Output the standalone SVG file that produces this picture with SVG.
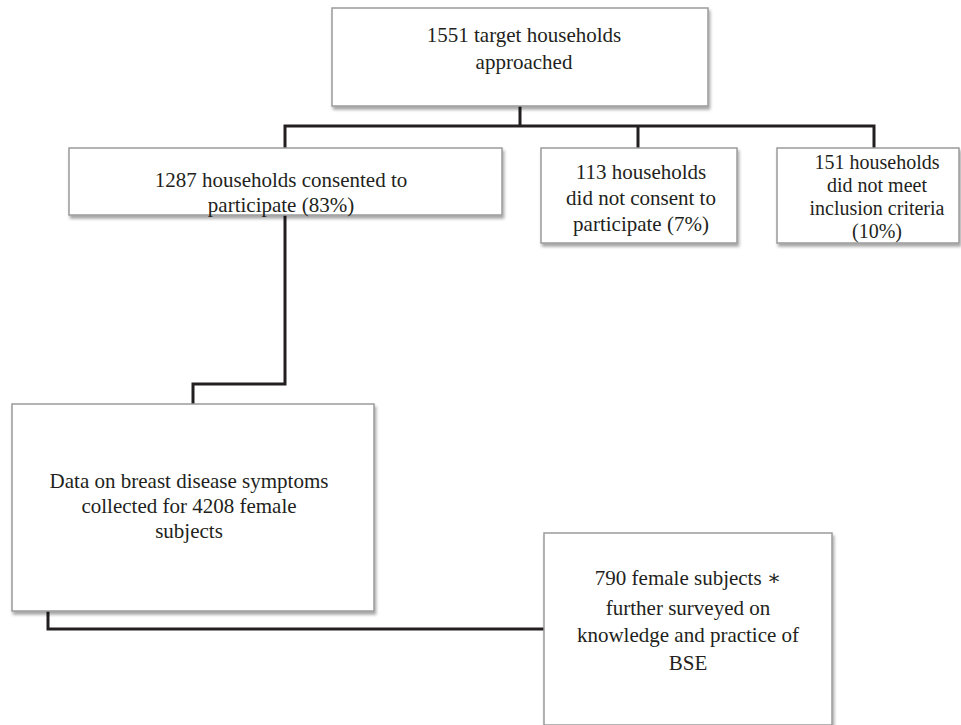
<svg xmlns="http://www.w3.org/2000/svg" width="961" height="725" viewBox="0 0 961 725">
<defs>
<filter id="sh" x="-5%" y="-5%" width="115%" height="120%">
<feDropShadow dx="1.5" dy="3" stdDeviation="1.8" flood-color="#000" flood-opacity="0.35"/>
</filter>
</defs>
<style>
.box{fill:#fff;stroke:#9a9a9a;stroke-width:1.5;filter:url(#sh)}
.t{font-family:'Liberation Serif','Times New Roman','DejaVu Serif',serif;font-size:21px;fill:#231f20;text-anchor:middle}
.s{font-size:20px}
.c{fill:none;stroke:#231f20;stroke-width:3;stroke-linejoin:miter}
</style>
<rect width="961" height="725" fill="#fff"/>
<g id="connectors">
<path class="c" d="M520,106 V126 M285,148 V126 H874 V148 M638,126 V148"/>
<path class="c" d="M285,215 V384 H193 V404"/>
<path class="c" d="M48,611 V629 H544"/>
</g>
<g id="n1">
<rect class="box" x="332" y="8" width="376" height="98"/>
<text class="t" x="524" y="42">1551 target households</text>
<text class="t" x="524" y="69">approached</text>
</g>
<g id="n2">
<rect class="box" x="69" y="148" width="433" height="67"/>
<text class="t" x="281" y="187">1287 households consented to</text>
<text class="t" x="281" y="212">participate (83%)</text>
</g>
<g id="n3">
<rect class="box" x="541" y="148" width="196" height="95"/>
<text class="t" x="641" y="179">113 households</text>
<text class="t" x="641" y="205">did not consent to</text>
<text class="t" x="641" y="231">participate (7%)</text>
</g>
<g id="n4">
<rect class="box" x="777" y="148" width="182" height="95"/>
<text class="t s" x="877" y="169">151 households</text>
<text class="t s" x="877" y="192">did not meet</text>
<text class="t s" x="877" y="215">inclusion criteria</text>
<text class="t s" x="877" y="238">(10%)</text>
</g>
<g id="n5">
<rect class="box" x="12" y="404" width="362" height="207"/>
<text class="t" x="189" y="488">Data on breast disease symptoms</text>
<text class="t" x="189" y="513">collected for 4208 female</text>
<text class="t" x="189" y="538">subjects</text>
</g>
<g id="n6">
<rect class="box" x="544" y="533" width="288" height="192"/>
<text class="t" x="688" y="585">790 female subjects ∗</text>
<text class="t" x="688" y="615">further surveyed on</text>
<text class="t" x="688" y="642">knowledge and practice of</text>
<text class="t" x="688" y="670">BSE</text>
</g>
</svg>
